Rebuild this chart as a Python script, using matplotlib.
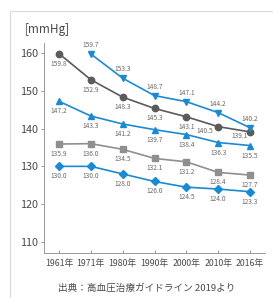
import matplotlib
matplotlib.use("Agg")
import matplotlib.pyplot as plt
from matplotlib.lines import Line2D

plt.rcParams['font.family'] = ['Noto Sans CJK JP', 'DejaVu Sans']

years = ['1961年', '1971年', '1980年', '1990年', '2000年', '2010年', '2016年']

circle_vals = [159.8, 152.9, 148.3, 145.3, 143.1, 140.5, 139.1]
down_vals = [159.7, 153.3, 148.7, 147.1, 144.2, 140.2]   # starts 1971
up_vals = [147.2, 143.3, 141.2, 139.7, 138.4, 136.3, 135.5]
square_vals = [135.9, 136.0, 134.5, 132.1, 131.2, 128.4, 127.7]
diamond_vals = [130.0, 130.0, 128.0, 126.0, 124.5, 124.0, 123.3]

yticks = [110, 120, 130, 140, 150, 160]

blue = '#1c8ad2'
dgray = '#5b5b5b'
lgray = '#8f8f8f'
lab_col = '#6a6a6a'

W, H = 273, 298
fig = plt.figure(figsize=(W / 100, H / 100), dpi=100)
ax = fig.add_axes([44 / W, 1 - 253 / H, (265 - 44) / W, (253 - 43) / H])

x_all = list(range(len(years)))
x_down = x_all[1:]

series = [
    (x_all, circle_vals, dgray, 'o', 4.6),
    (x_down, down_vals, blue, 'v', 5.0),
    (x_all, up_vals, blue, '^', 5.0),
    (x_all, square_vals, lgray, 's', 4.4),
    (x_all, diamond_vals, blue, 'D', 3.8),
]
for xs, ys, col, mk, ms in series:
    ax.plot(xs, ys, color=col, marker=mk, markersize=ms, lw=1.2, zorder=3)

def label(xs, ys, offs):
    for x, y, (dx, dy) in zip(xs, ys, offs):
        ax.annotate(f"{y:.1f}", (x, y), xytext=(dx, dy), textcoords='offset pixels',
                    ha='center', va='center', fontsize=4.8, color=lab_col)

below = (0, -10)
label(x_all, circle_vals, [below] * 5 + [(-13, -4), (-10, -4)])
label(x_down, down_vals, [(0, 9)] * 6)
label(x_all, up_vals, [below] * 7)
label(x_all, square_vals, [below] * 7)
label(x_all, diamond_vals, [below] * 7)

ax.set_xlim(-0.47, 6.47)
ax.set_ylim(107.1, 162.6)
ax.set_xticks(x_all)
ax.set_xticklabels(years, fontsize=6.3, color='#4a4a4a')
ax.set_yticks(yticks)
ax.set_yticklabels([str(t) for t in yticks], fontsize=7.8, color='#4a4a4a')
ax.tick_params(axis='x', direction='in', length=2.5, width=0.6, color='#888888', pad=4)
ax.tick_params(axis='y', direction='out', length=2.5, width=0.6, color='#888888', pad=2)
for s in ['top', 'right']:
    ax.spines[s].set_visible(False)
for s in ['left', 'bottom']:
    ax.spines[s].set_color('#999999')
    ax.spines[s].set_linewidth(0.7)

fig.text(25 / W, 1 - 30 / H, '[mmHg]', fontsize=8.5, color='#4a4a4a', va='center', ha='left')
fig.text(147 / W, 1 - 288 / H, '出典：高血圧治療ガイドライン 2019より', fontsize=6.9,
         color='#4a4a4a', va='center', ha='center')

# light frame (top and left edges)
fig.add_artist(Line2D([10 / W, 1], [1 - 11 / H, 1 - 11 / H], color='#dddddd', lw=0.9))
fig.add_artist(Line2D([10 / W, 10 / W], [0, 1 - 11 / H], color='#dddddd', lw=0.9))

fig.savefig('out.png', dpi=100)
